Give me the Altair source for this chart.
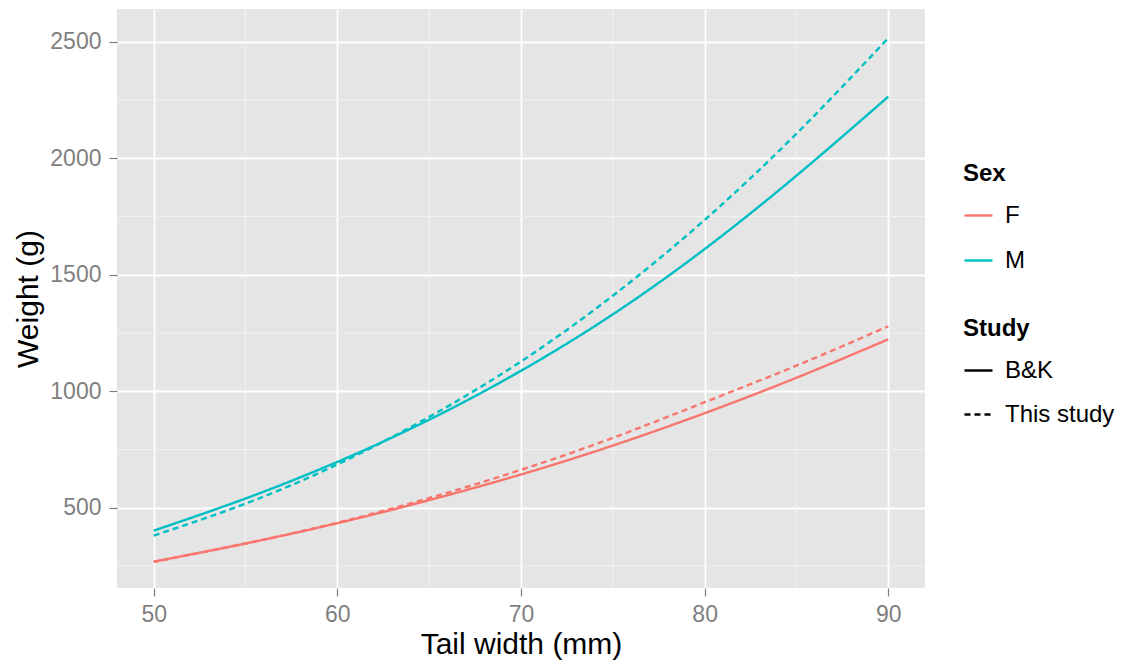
import altair as alt
import pandas as pd

# ---- data ----
tail_width = [50, 55, 60, 65, 70, 75, 80, 85, 90]
f_bk = [269, 347, 434, 533, 643, 767, 906, 1058, 1223]
f_this = [268, 347, 436, 542, 663, 800, 953, 1110, 1279]
m_bk = [402, 540, 697, 878, 1088, 1330, 1610, 1925, 2264]
m_this = [381, 518, 686, 890, 1128, 1410, 1735, 2105, 2515]

sex_levels = ["F", "M"]
study_levels = ["B&K", "This study"]
sex_colors = ["#F8766D", "#00BFC4"]

x_ticks = [50, 60, 70, 80, 90]
x_minor = [55, 65, 75, 85]
y_ticks = [500, 1000, 1500, 2000, 2500]
y_minor = [250, 750, 1250, 1750, 2250]

series = [
    ("F", "B&K", f_bk),
    ("F", "This study", f_this),
    ("M", "B&K", m_bk),
    ("M", "This study", m_this),
]
rows = []
for sex, study, vals in series:
    for xv, yv in zip(tail_width, vals):
        rows.append({"tail": xv, "weight": yv, "sex": sex, "study": study,
                     "grp": sex + "|" + study})
df = pd.DataFrame(rows)

x_scale = alt.Scale(domain=[48, 92], nice=False, zero=False)
y_scale = alt.Scale(domain=[156, 2640], nice=False, zero=False)
x_axis = alt.Axis(title="Tail width (mm)", values=x_ticks, format="d")
y_axis = alt.Axis(title="Weight (g)", values=y_ticks, format="d")

minor_x = alt.Chart(pd.DataFrame({"v": x_minor})).mark_rule(
    color="#F2F2F2", strokeWidth=1
).encode(x=alt.X("v:Q", scale=x_scale, axis=x_axis))

minor_y = alt.Chart(pd.DataFrame({"v": y_minor})).mark_rule(
    color="#F2F2F2", strokeWidth=1
).encode(y=alt.Y("v:Q", scale=y_scale, axis=y_axis))

lines = alt.Chart(df).mark_line(strokeWidth=2.4, interpolate="natural").encode(
    x=alt.X("tail:Q", scale=x_scale, axis=x_axis),
    y=alt.Y("weight:Q", scale=y_scale, axis=y_axis),
    color=alt.Color("sex:N",
                    scale=alt.Scale(domain=sex_levels, range=sex_colors),
                    legend=alt.Legend(title="Sex", orient="none",
                                      legendX=846, legendY=153,
                                      symbolType="stroke", symbolSize=784,
                                      symbolStrokeWidth=2.4,
                                      rowPadding=17, labelOffset=11,
                                      titlePadding=14, padding=0)),
    strokeDash=alt.StrokeDash("study:N",
                              scale=alt.Scale(domain=study_levels,
                                              range=[[1, 0], [6, 4]]),
                              legend=alt.Legend(title="Study", orient="none",
                                                legendX=846, legendY=308,
                                                symbolType="stroke",
                                                symbolSize=784,
                                                symbolStrokeWidth=2.4,
                                                symbolStrokeColor="black",
                                                rowPadding=16, labelOffset=11,
                                                titlePadding=14, padding=0)),
    detail="grp:N",
)

chart = alt.layer(minor_x, minor_y, lines).properties(
    width=808,
    height=579,
    autosize=alt.AutoSizeParams(type="none"),
    padding={"left": 109, "top": 1, "right": 190, "bottom": 76},
    background="white",
).configure_view(
    fill="#E5E5E5", strokeWidth=0
).configure_axis(
    grid=True, gridColor="white", gridWidth=1.8,
    domain=False,
    tickColor="#7F7F7F", tickSize=8, tickWidth=1.2,
    labelColor="#7F7F7F", labelFontSize=23, labelFont="Liberation Sans",
    titleFont="Liberation Sans", titleFontSize=30, titleFontWeight="normal",
    titleColor="black",
).configure_axisX(
    labelPadding=7, titlePadding=3
).configure_axisY(
    labelPadding=8, titlePadding=6
).configure_legend(
    labelFont="Liberation Sans", labelFontSize=24, labelColor="black",
    titleFont="Liberation Sans", titleFontSize=24, titleFontWeight="bold",
    titleColor="black",
)

chart.save("out.html", embed_options={"renderer": "svg", "actions": False})
